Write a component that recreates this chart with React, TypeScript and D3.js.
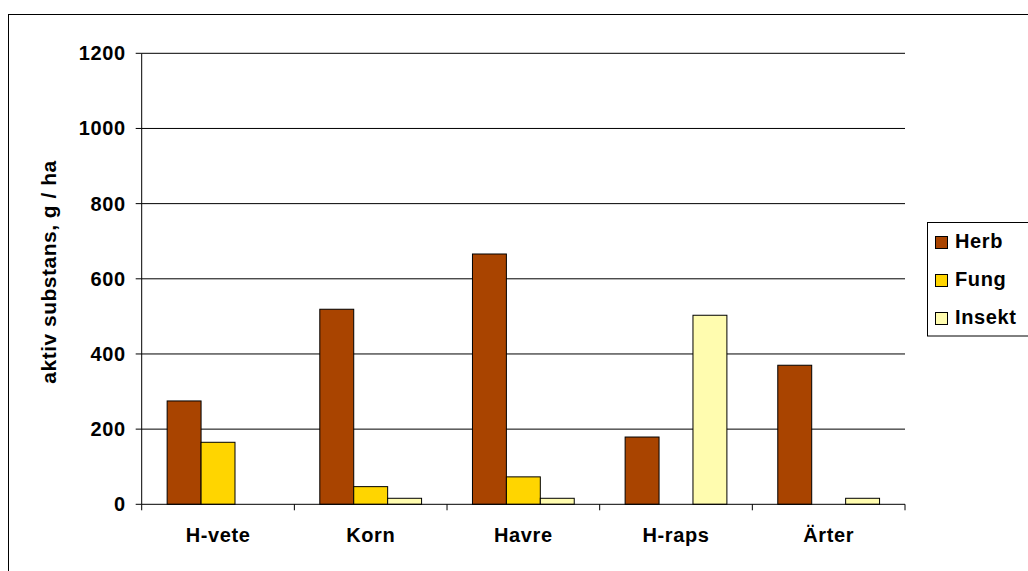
import React from "react";
import * as d3 from "d3";

const categories = ["H-vete", "Korn", "Havre", "H-raps", "Ärter"];
const seriesNames = ["Herb", "Fung", "Insekt"];
const herb = [275, 519, 666, 179, 370];
const fung = [165, 47, 73, 0, 0];
const insekt = [0, 16, 16, 503, 16];
const yTicks = [0, 200, 400, 600, 800, 1000, 1200];
const colors = ["#A94400", "#FFD500", "#FFFCAF"];

const W = 1028;
const H = 571;
const FONT = "'Liberation Sans', Arial, sans-serif";
const FS = 20;
const LS = 0.6;

export default function App() {
  const series = [herb, fung, insekt];
  const x0 = 141.7;
  const x1 = 905;
  const y = d3.scaleLinear().domain([0, 1200]).range([504.3, 53.3]);
  const band = d3.scaleBand<string>().domain(categories).range([x0, x1]).paddingInner(0).paddingOuter(0);
  // 150% gap between category groups
  const barW = band.bandwidth() / 4.5;
  const groupOffset = (band.bandwidth() - barW * 3) / 2;

  return (
    <svg width={W} height={H} style={{ position: "absolute", left: 0, top: 0, background: "#fff" }} fontFamily={FONT}>
      <rect x={8.5} y={14.5} width={W + 10} height={H + 10} fill="#fff" stroke="#000" strokeWidth={1} />
      {/* gridlines */}
      {yTicks.filter((t) => t > 0).map((t) => (
        <line key={"g" + t} x1={x0} x2={x1} y1={y(t)} y2={y(t)} stroke="#000" strokeWidth={1} />
      ))}
      {/* bars */}
      {categories.map((c, i) => (
        <g key={c}>
          {series.map((s, k) =>
            s[i] > 0 ? (
              <rect
                key={k}
                x={(band(c) as number) + groupOffset + k * barW}
                y={y(s[i])}
                width={barW}
                height={y(0) - y(s[i])}
                fill={colors[k]}
                stroke="#000"
                strokeWidth={1}
              />
            ) : null
          )}
        </g>
      ))}
      {/* y axis */}
      <line x1={x0} x2={x0} y1={y(1200)} y2={y(0)} stroke="#000" strokeWidth={1} />
      {yTicks.map((t) => (
        <g key={"t" + t}>
          <line x1={x0 - 6} x2={x0} y1={y(t)} y2={y(t)} stroke="#000" strokeWidth={1} />
          <text x={x0 - 16} y={y(t)} dy="0.35em" textAnchor="end" fontSize={FS} letterSpacing={LS} fontWeight="bold" fill="#000">
            {t}
          </text>
        </g>
      ))}
      {/* x axis */}
      <line x1={x0} x2={x1} y1={y(0)} y2={y(0)} stroke="#000" strokeWidth={1} />
      {categories.map((c) => (
        <line key={"xt" + c} x1={band(c) as number} x2={band(c) as number} y1={y(0)} y2={y(0) + 6} stroke="#000" />
      ))}
      <line x1={x1} x2={x1} y1={y(0)} y2={y(0) + 6} stroke="#000" />
      {categories.map((c) => (
        <text
          key={"xl" + c}
          x={(band(c) as number) + band.bandwidth() / 2}
          y={535}
          dy="0.35em"
          textAnchor="middle"
          fontSize={FS}
          letterSpacing={LS}
          fontWeight="bold"
          fill="#000"
        >
          {c}
        </text>
      ))}
      <text
        transform={`translate(49,272) rotate(-90)`}
        textAnchor="middle"
        dy="0.35em"
        fontSize={21}
        letterSpacing={0.5}
        fontWeight="bold"
        fill="#000"
      >
        aktiv substans, g / ha
      </text>
      {/* legend */}
      <rect x={927.5} y={222.5} width={120} height={113.5} fill="#fff" stroke="#000" strokeWidth={1} />
      {seriesNames.map((n, k) => (
        <g key={n} transform={`translate(0,${241 + k * 38})`}>
          <rect x={935.5} y={-4.5} width={12} height={12} fill={colors[k]} stroke="#000" strokeWidth={1} />
          <text x={955} y={0} dy="0.35em" fontSize={FS} letterSpacing={LS} fontWeight="bold" fill="#000">
            {n}
          </text>
        </g>
      ))}
    </svg>
  );
}
